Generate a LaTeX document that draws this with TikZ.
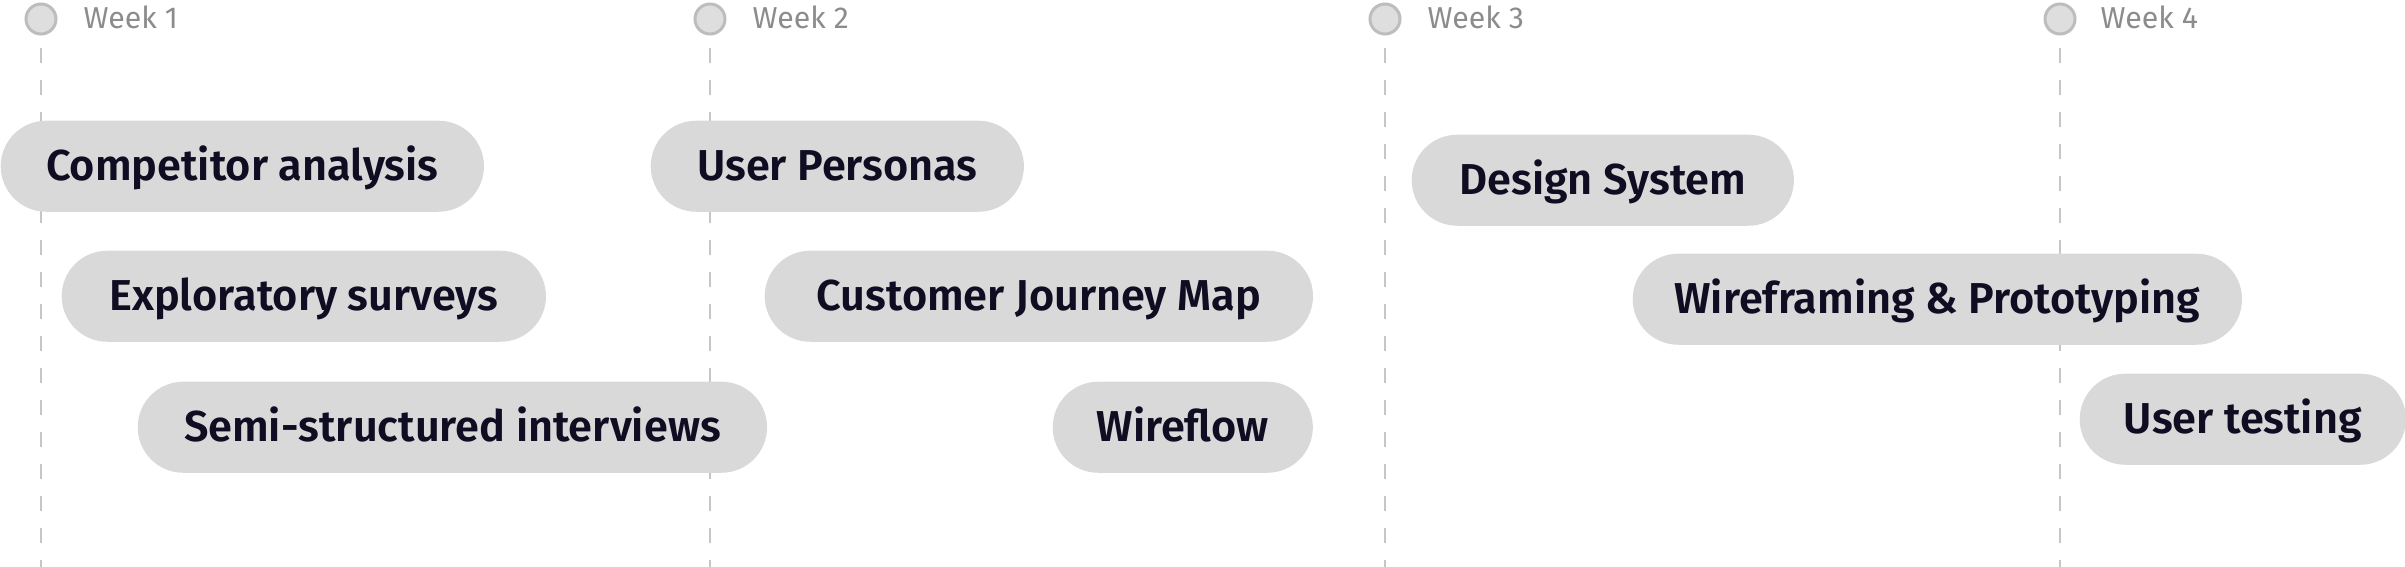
\documentclass[tikz,border=0pt]{standalone}
\usepackage{fontspec}
\setmainfont{Fira Sans}
\IfFontExistsTF{Fira Sans SemiBold}
  {\newfontfamily\pillfont{Fira Sans SemiBold}}
  {\newfontfamily\pillfont{Fira Sans}[UprightFont=*, BoldFont=* Bold]}
\usepackage{xcolor}
\definecolor{pillgray}{HTML}{D9D9D9}
\definecolor{inkblue}{HTML}{100D22}
\definecolor{weekgray}{HTML}{8C8C8C}
\definecolor{guidegray}{HTML}{C6C6C6}
\definecolor{dotfill}{HTML}{DEDEDE}
\definecolor{dotring}{HTML}{BDBDBD}

\begin{document}
\begin{tikzpicture}[x=0.01cm, y=-0.01cm,
  pill/.style={fill=pillgray, text=inkblue, rounded corners=0.455cm,
               anchor=north west, minimum height=0.91cm, inner sep=0pt,
               text height=0.30cm, text depth=0.024cm,
               font=\pillfont\fontsize{12.3pt}{14pt}\selectfont},
  weekdot/.style={circle, fill=dotfill, draw=dotring, line width=0.03cm,
                  minimum size=0.30cm, inner sep=0pt},
  weeklabel/.style={anchor=base west, text=weekgray, inner sep=0pt,
                    font=\fontsize{8.6pt}{10pt}\selectfont},
  guide/.style={draw=guidegray, line width=0.02cm, dash pattern=on 0.15cm off 0.17cm}]
  \useasboundingbox (0,0) rectangle (2405,567);
  \coordinate (base) at (0,567);
  % Week markers and their guide lines
  \node[weekdot] (w1) at (41,  19) {};
  \node[weekdot] (w2) at (710, 19) {};
  \node[weekdot] (w3) at (1385,19) {};
  \node[weekdot] (w4) at (2060,19) {};
  \node[weeklabel] (l1) at (83,  29) {Week 1};
  \node[weeklabel] (l2) at (752, 29) {Week 2};
  \node[weeklabel] (l3) at (1427,29) {Week 3};
  \node[weeklabel] (l4) at (2100,29) {Week 4};
  \foreach \w in {w1,w2,w3,w4}
    \draw[guide] ([yshift=-0.12cm]\w.south) -- (\w |- base);
  % Week 1 tasks
  \node[pill, minimum width=4.83cm] (comp)  at (0,  120) {Competitor analysis};
  \node[pill, minimum width=4.84cm] (expl)  at (61, 250) {Exploratory surveys};
  \node[pill, minimum width=6.29cm] (semi)  at (137,381) {Semi-structured interviews};
  % Week 2 tasks
  \node[pill, minimum width=3.73cm] (pers)  at (650,120) {User Personas};
  \node[pill, minimum width=5.48cm] (cjm)   at (764,250) {Customer Journey Map};
  \node[pill, minimum width=2.60cm] (wflow) at (1052,381) {Wireflow};
  % Weeks 3--4 tasks
  \node[pill, minimum width=3.82cm] (dsys)  at (1411,134) {Design System};
  \node[pill, minimum width=6.09cm] (wfp)   at (1632,253) {Wireframing \& Prototyping};
  \node[pill, minimum width=3.26cm] (utest) at (2079,373) {User testing};
\end{tikzpicture}
\end{document}
